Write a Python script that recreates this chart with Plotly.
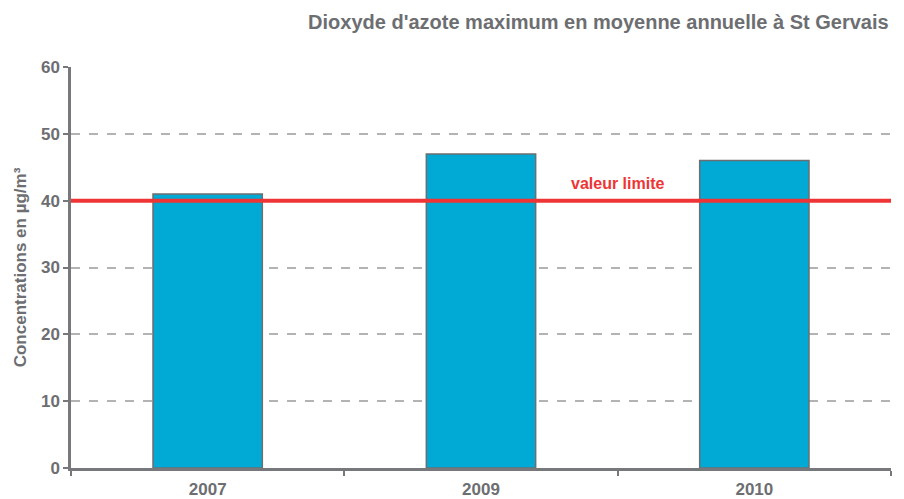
import plotly.graph_objects as go

years = ["2007", "2009", "2010"]
values = [41, 47, 46]
limit_value = 40
limit_label = "valeur limite"
y_ticks = [0, 10, 20, 30, 40, 50, 60]

FONT = "Liberation Sans, Arial, sans-serif"
GRAY = "#6d6e71"

fig = go.Figure()
fig.add_trace(go.Bar(
    x=years, y=values, width=0.4,
    marker=dict(color="#00aad4", line=dict(color="#6d6e71", width=1.5)),
    showlegend=False, hoverinfo="x+y",
))

fig.add_shape(type="line", xref="paper", x0=0, x1=1, yref="y", y0=limit_value, y1=limit_value,
              line=dict(color="#ee3434", width=4), layer="above")
fig.add_annotation(x=1.5, y=limit_value, xref="x", yref="y", text="<b>" + limit_label + "</b>",
                   showarrow=False, yshift=17, font=dict(family=FONT, size=16, color="#ee3434"))

fig.update_layout(
    width=904, height=499,
    margin=dict(l=71, r=13, t=67, b=31, autoexpand=False),
    plot_bgcolor="white", paper_bgcolor="white",
    bargap=0.6,
    title=dict(text="<b>Dioxyde d'azote maximum en moyenne annuelle à St Gervais</b>",
               x=0.983, xanchor="right", y=0.955, yanchor="middle",
               font=dict(family=FONT, size=20, color=GRAY)),
    xaxis=dict(
        type="category", tickmode="array", tickvals=years, ticktext=["<b>%s</b>" % y for y in years],
        ticks="outside", ticklen=5, tickwidth=2, tickcolor="#77787b", tickson="boundaries",
        showline=True, linecolor="#77787b", linewidth=2.5,
        tickfont=dict(family=FONT, size=17, color=GRAY), ticklabelstandoff=4,
        showgrid=False, range=[-0.5, 2.5], automargin=False,
    ),
    yaxis=dict(
        range=[0, 60], tickmode="array", tickvals=y_ticks, ticktext=["<b>%d</b>" % v for v in y_ticks],
        ticks="outside", ticklen=5, tickwidth=2, tickcolor="#77787b",
        showline=True, linecolor="#77787b", linewidth=2.5,
        tickfont=dict(family=FONT, size=17, color=GRAY),
        showgrid=True, gridcolor="#b3b3b3", griddash="dash", gridwidth=1.5,
        zeroline=False, automargin=False,
        title=dict(text="<b>Concentrations en µg/m³</b>", font=dict(family=FONT, size=17, color=GRAY), standoff=10),
    ),
)

fig.write_html("out.html", config={"displayModeBar": False},
               post_script="document.body.style.margin='0';document.body.style.overflow='hidden';")
